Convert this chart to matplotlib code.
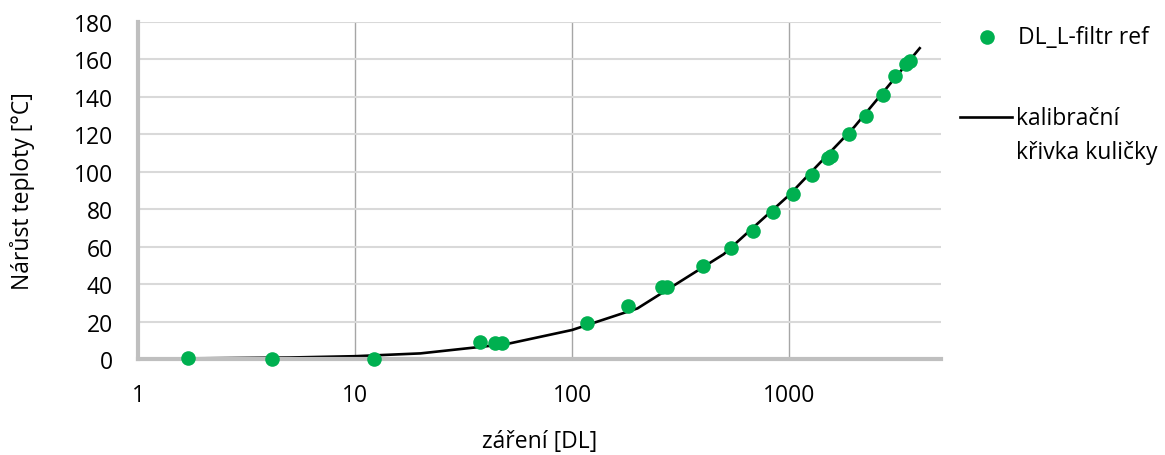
import matplotlib.pyplot as plt
from matplotlib.lines import Line2D
from matplotlib.ticker import FixedLocator, FixedFormatter, NullLocator

plt.rcParams['font.family'] = ['Open Sans', 'DejaVu Sans']

# measured points (DL_L-filtr ref)
dose = [1.7, 4.15, 12.2, 37.7, 44.2, 47.6, 117, 181, 260, 274, 401, 540,
        683, 844, 1047, 1280, 1514, 1562, 1897, 2255, 2704, 3070, 3450, 3610]
temp = [0.3, 0.0, 0.1, 9.0, 8.3, 8.3, 19.2, 28.2, 38.2, 38.6, 49.8, 59.3,
        68.4, 78.5, 88.1, 98.5, 107.2, 108.5, 120.2, 130.0, 141.2, 151.0, 157.4, 159.3]

# calibration curve
cal_dose = [1, 2, 5, 10, 20, 50, 100, 200, 500, 1000, 2000, 4000]
cal_temp = [0.2, 0.4, 0.8, 1.5, 3.0, 8.0, 15.5, 27.0, 56.0, 87.5, 124.0, 166.0]

xticks = [1, 10, 100, 1000]
xtick_labels = ['1', '10', '100', '1000']
yticks = list(range(0, 181, 20))

green = '#00b050'
fs = 16.5

fig = plt.figure(figsize=(11.65, 4.56), dpi=100)
ax = fig.add_axes([0.1185, 0.2105, 0.6892, 0.7391])

ax.plot(cal_dose, cal_temp, color='black', lw=1.9, zorder=2, clip_on=False)
ax.plot(dose, temp, 'o', color=green, markersize=10.5, markeredgewidth=0,
        zorder=3, clip_on=False)

ax.set_xscale('log')
ax.set_xlim(1, 5012)
ax.set_ylim(0, 180)
ax.xaxis.set_major_locator(FixedLocator(xticks))
ax.xaxis.set_major_formatter(FixedFormatter(xtick_labels))
ax.xaxis.set_minor_locator(NullLocator())
ax.set_yticks(yticks)

ax.grid(axis='y', color='#d9d9d9', lw=1.5, zorder=0)
ax.grid(axis='x', color='#a6a6a6', lw=1.0, zorder=0)
ax.set_axisbelow(True)

for s in ['top', 'right']:
    ax.spines[s].set_visible(False)
for s in ['left', 'bottom']:
    ax.spines[s].set_color('#bfbfbf')
    ax.spines[s].set_linewidth(3)

ax.tick_params(axis='both', length=0, labelsize=fs, colors='black')
ax.tick_params(axis='x', pad=17)
ax.tick_params(axis='y', pad=18)

ax.set_xlabel('záření [DL]', fontsize=fs, va='center', ha='center')
ax.set_ylabel('Nárůst teploty [°C]', fontsize=fs, va='center', ha='center')
ax.xaxis.set_label_coords(0.5, -0.243)
ax.yaxis.set_label_coords(-0.1445, 0.5)

# legend drawn by hand to match layout
fig.add_artist(Line2D([987 / 1165], [1 - 38 / 456], marker='o', color=green,
                      markersize=10.5, markeredgewidth=0, linestyle='none'))
fig.text(1018 / 1165, 1 - 38 / 456, 'DL_L-filtr ref', fontsize=fs, va='center')
fig.add_artist(Line2D([960 / 1165, 1012 / 1165], [1 - 118 / 456, 1 - 118 / 456],
                      color='black', lw=1.9))
fig.text(1016 / 1165, 1 - 119 / 456, 'kalibrační', fontsize=fs, va='center')
fig.text(1016 / 1165, 1 - 153 / 456, 'křivka kuličky', fontsize=fs, va='center')

fig.savefig('out.png', dpi=100)
